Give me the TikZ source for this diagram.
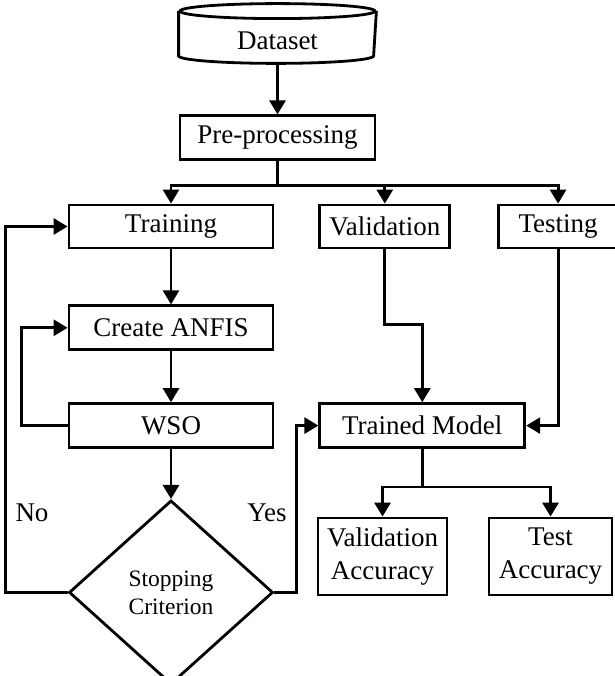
\documentclass[tikz,border=0pt]{standalone}
\usepackage{fontspec}
\setmainfont{Liberation Serif}
\usetikzlibrary{positioning,arrows.meta,shapes.geometric}

\begin{document}
\begin{tikzpicture}[x=1pt,y=1pt,line width=2.8pt,
        font=\fontsize{27}{33}\selectfont,
        >={Triangle[length=14pt,width=16pt]}]
            \tikzstyle{box}=[draw,inner sep=0pt,minimum height=44pt,align=center]
            \tikzstyle{decision}=[draw,diamond,inner sep=0pt,aspect=1.11,
                minimum width=204pt,minimum height=184pt,align=center,
                font=\fontsize{23.5}{28}\selectfont]
            \useasboundingbox (0,0) rectangle (614,676);

            \node[minimum width=195pt,minimum height=42pt,inner sep=0pt] (ds) at (277.5,635) {Dataset};
            \draw ([yshift=7.5pt]ds.north) ellipse[x radius=97.5pt,y radius=7.5pt];
            \draw ([yshift=7.5pt]ds.north west) -- ([yshift=7.5pt]ds.south west)
                arc[start angle=180,end angle=360,x radius=97.5pt,y radius=7.5pt]
                -- ([yshift=7.5pt]ds.north east);

            \node[box,minimum width=195pt,below=51pt of ds] (pre) {Pre-processing};
            \node[box,minimum width=204pt,minimum height=43pt] (train) at (171,449.5) {Training};
            \node[box,minimum width=130pt,minimum height=43pt,right=44pt of train] (valid) {Validation};
            \node[box,minimum width=119pt,minimum height=43pt,right=46pt of valid] (test) {Testing};
            \node[box,minimum width=204pt,below=55pt of train] (anfis) {Create ANFIS};
            \node[box,minimum width=204pt,below=51pt of anfis] (wso) {WSO};
            \node[decision,below=50pt of wso] (stop) {Stopping\\Criterion};
            \node[box,minimum width=205pt,right=44pt of wso] (model) {Trained Model};
            \node[box,minimum width=129pt,minimum height=77pt] (vacc) at (382.5,119.5) {Validation\\Accuracy};
            \node[box,minimum width=123pt,minimum height=77pt] (tacc) at (550.5,119.5) {Test\\Accuracy};

            \node (no) at (32,163) {No};
            \node (yes) at (267,163) {Yes};

            \draw[->] (ds) -- (pre);
            \draw[->] (pre.south) -- ++(0,-24) -| (train);
            \draw[->] (pre.south) -- ++(0,-24) -| (valid);
            \draw[->] (pre.south) -- ++(0,-24) -| (test);
            \draw[->] (train) -- (anfis);
            \draw[->] (anfis) -- (wso);
            \draw[->] (wso) -- (stop);
            \draw[->] (wso.west) -- ++(-46,0) |- (anfis.west);
            \draw[->] (stop.west) -- ++(-62,0) |- (train.west);
            \draw[->] (stop.east) -- ++(22,0) |- (model.west);
            \draw[->] (valid.south) -- ++(0,-75) -| (model);
            \draw[->] (test.south) |- (model.east);
            \draw[->] (model.south) -- ++(0,-38) -| (vacc);
            \draw[->] (model.south) -- ++(0,-38) -| (tacc);
        \end{tikzpicture}
\end{document}
